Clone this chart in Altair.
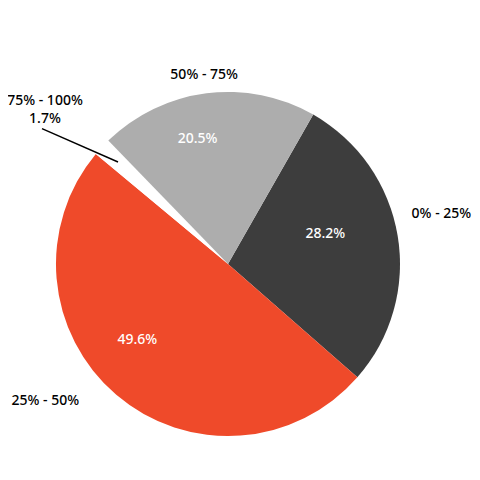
import altair as alt
import pandas as pd
import math

categories = ["0% - 25%", "25% - 50%", "75% - 100%", "50% - 75%"]
values = [28.2, 49.6, 1.7, 20.5]
colors = ["#3d3d3d", "#ef4a2a", "#ffffff", "#adadad"]
order_idx = [0, 1, 2, 3]

df = pd.DataFrame({"cat": categories, "value": values, "idx": order_idx})

START = 0.5184
CX, CY = 220, 256
FONT = "Noto Sans"
FS = 14
FW = 500

theta = alt.Theta("value:Q", stack=True,
                  scale=alt.Scale(range=[START, START + 2 * math.pi]))
color = alt.Color("cat:N", scale=alt.Scale(domain=categories, range=colors), legend=None)

base = alt.Chart(df).encode(theta=theta, order=alt.Order("idx:Q"))

arcs = base.mark_arc(outerRadius=172).encode(
    color=color, x=alt.value(CX), y=alt.value(CY))

inner = base.transform_calculate(
    lab="datum.idx == 2 ? '' : format(datum.value, '.1f') + '%'"
).mark_text(font=FONT, fontSize=FS, fontWeight=FW, fill="white", dx=-16, dy=-11).encode(
    text="lab:N", radius=alt.value(115), x=alt.value(CX), y=alt.value(CY))

calc = alt.Chart(df).transform_window(
    cum="sum(value)", sort=[alt.SortField("idx")], frame=[None, 0]
).transform_joinaggregate(total="sum(value)").transform_calculate(
    a=f"{START} + 2*PI*(datum.cum - datum.value/2)/datum.total"
).transform_calculate(
    s="sin(datum.a)", c="cos(datum.a)"
).transform_calculate(
    ly=f"{CY} - 202*datum.c - 17"
).transform_calculate(
    lx=f"{CX} + (datum.s > 0 ? 1 : -1)*sqrt(max(0, 202*202 - pow(datum.ly - {CY}, 2)))",
    ty=f"{CY} - 190*datum.c", tx=f"{CX} + 190*datum.s"
)

right_lab = calc.transform_filter("datum.s > 0.5 && datum.idx != 2").mark_text(
    font=FONT, fontSize=FS, fontWeight=FW, fill="black", align="left", dx=-12
).encode(x=alt.X("lx:Q", scale=None), y=alt.Y("ly:Q", scale=None), text="cat:N")

left_lab = calc.transform_filter("datum.s < -0.5 && datum.idx != 2").mark_text(
    font=FONT, fontSize=FS, fontWeight=FW, fill="black", align="right"
).encode(x=alt.X("lx:Q", scale=None), y=alt.Y("ly:Q", scale=None), text="cat:N")

top_lab = calc.transform_filter("abs(datum.s) <= 0.5 && datum.idx != 2").mark_text(
    font=FONT, fontSize=FS, fontWeight=FW, fill="black", align="center"
).encode(x=alt.X("tx:Q", scale=None), y=alt.Y("ty:Q", scale=None), text="cat:N")

small = calc.transform_calculate(
    x1=f"{CX} + 150*sin(datum.a)", y1=f"{CY} - 150*cos(datum.a)",
    x2=f"{CX} + 230*sin(datum.a - 0.119)", y2=f"{CY} - 230*cos(datum.a - 0.119)",
    pct="format(datum.value, '.1f') + '%'"
).transform_filter("datum.idx == 2")

leader = small.mark_rule(color="black", strokeWidth=1.4).encode(
    x=alt.X("x1:Q", scale=None), y=alt.Y("y1:Q", scale=None),
    x2="x2:Q", y2="y2:Q")

small_cat = small.transform_calculate(
    tx2="datum.x2 + 3", ty2="datum.y2 - 28"
).mark_text(font=FONT, fontSize=FS, fontWeight=FW, fill="black").encode(
    x=alt.X("tx2:Q", scale=None), y=alt.Y("ty2:Q", scale=None), text="cat:N")

small_pct = small.transform_calculate(
    tx2="datum.x2 + 3", ty2="datum.y2 - 10"
).mark_text(font=FONT, fontSize=FS, fontWeight=FW, fill="black").encode(
    x=alt.X("tx2:Q", scale=None), y=alt.Y("ty2:Q", scale=None), text="pct:N")

chart = alt.layer(arcs, inner, right_lab, left_lab, top_lab, leader,
                  small_cat, small_pct).properties(
    width=464, height=464, padding=0, autosize="none"
).configure_view(stroke=None)

chart.save("out.html", embed_options={"renderer": "svg", "actions": False})
